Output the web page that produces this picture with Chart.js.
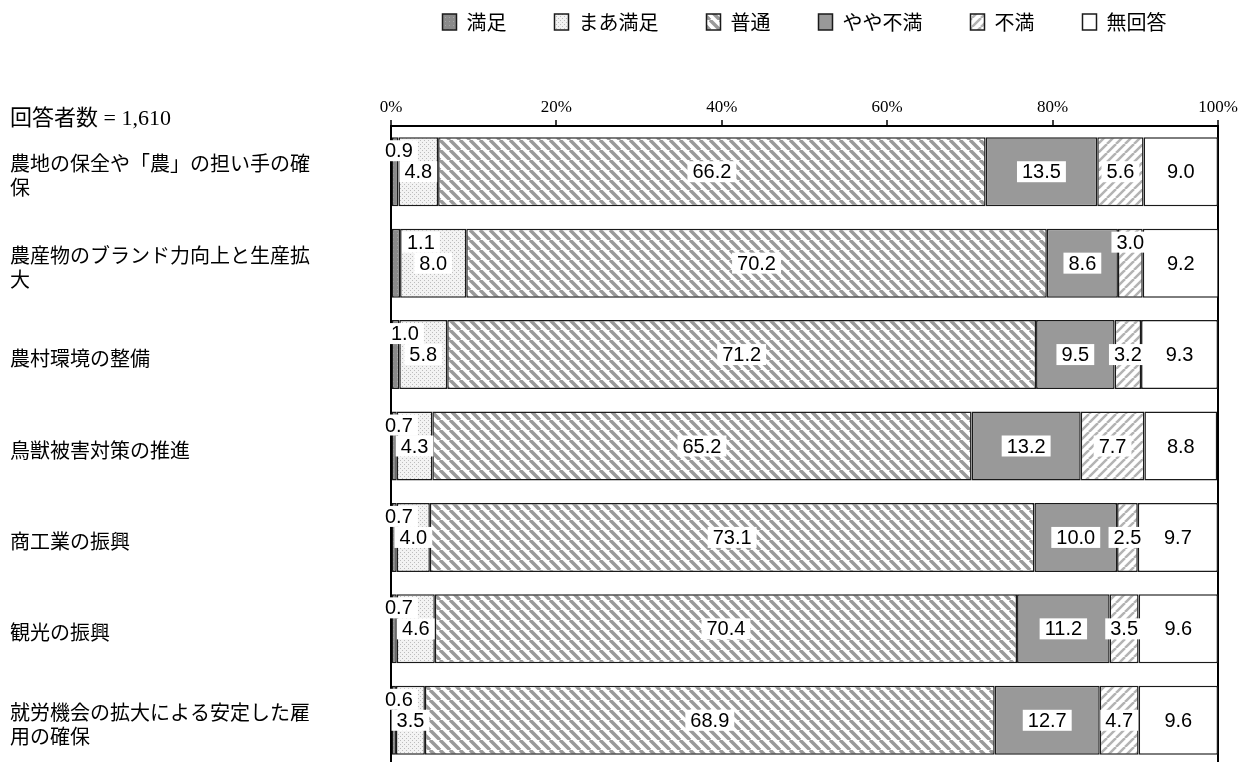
<!DOCTYPE html>
<html lang="ja">
<head>
<meta charset="utf-8">
<title>満足度</title>
<script src="https://cdn.jsdelivr.net/npm/chart.js@4/dist/chart.umd.min.js"></script>
<style>
  html, body { margin: 0; padding: 0; background: #fff; overflow: hidden; }
  canvas { display: block; }
</style>
</head>
<body>
<canvas id="satisfactionChart" width="1251" height="768"></canvas>
<script>
// Categories and answer shares (%)
const categories = [
    '農地の保全や「農」の担い手の確保',
    '農産物のブランド力向上と生産拡大',
    '農村環境の整備',
    '鳥獣被害対策の推進',
    '商工業の振興',
    '観光の振興',
    '就労機会の拡大による安定した雇用の確保'
];
const seriesNames = ['満足', 'まあ満足', '普通', 'やや不満', '不満', '無回答'];
const manzoku    = [0.9, 1.1, 1.0, 0.7, 0.7, 0.7, 0.6];
const maaManzoku = [4.8, 8.0, 5.8, 4.3, 4.0, 4.6, 3.5];
const futsuu     = [66.2, 70.2, 71.2, 65.2, 73.1, 70.4, 68.9];
const yayaFuman  = [13.5, 8.6, 9.5, 13.2, 10.0, 11.2, 12.7];
const fuman      = [5.6, 3.0, 3.2, 7.7, 2.5, 3.5, 4.7];
const mukaitou   = [9.0, 9.2, 9.3, 8.8, 9.7, 9.6, 9.6];
const xTicks = [0, 20, 40, 60, 80, 100];
const respondents = '回答者数 = 1,610';

// labels that sit above the bar centre in the original (and a couple nudged sideways)
const raisedLabels = { '満足': [0, 1, 2, 3, 4, 5, 6], '不満': [1] };
const nudgedLabels = { '満足': { 1: 22, 2: 6 } };

// wrap long category names at 15 characters
function wrapLabel(s) {
    const lines = [];
    for (let i = 0; i < s.length; i += 15) lines.push(s.slice(i, i + 15));
    return lines;
}

// small tiles used as fill patterns
function makePattern(size, draw) {
    const c = document.createElement('canvas');
    c.width = size;
    c.height = size;
    const g = c.getContext('2d');
    draw(g, size);
    return g.createPattern(c, 'repeat');
}

const patManzoku = makePattern(4, function(g, s) {
    g.fillStyle = '#8a8a8a'; g.fillRect(0, 0, s, s);
    g.fillStyle = '#a6a6a6'; g.fillRect(1, 1, 1, 1);
});
const patMaa = makePattern(4, function(g, s) {
    g.fillStyle = '#f3f3f3'; g.fillRect(0, 0, s, s);
    g.fillStyle = '#bdbdbd'; g.fillRect(0, 0, 1, 1); g.fillRect(2, 2, 1, 1);
});
const patFutsuu = makePattern(10, function(g, s) {
    g.fillStyle = '#ffffff'; g.fillRect(0, 0, s, s);
    g.strokeStyle = '#9a9a9a'; g.lineWidth = 3.5;
    for (let x0 = -s; x0 <= s; x0 += s) {
        g.beginPath(); g.moveTo(x0, 0); g.lineTo(x0 + s, s); g.stroke();
    }
});
const patFuman = makePattern(9, function(g, s) {
    g.fillStyle = '#ffffff'; g.fillRect(0, 0, s, s);
    g.strokeStyle = '#b3b3b3'; g.lineWidth = 2.5;
    for (let x0 = -s; x0 <= s; x0 += s) {
        g.beginPath(); g.moveTo(x0, s); g.lineTo(x0 + s, 0); g.stroke();
    }
});

const seriesValues = [manzoku, maaManzoku, futsuu, yayaFuman, fuman, mukaitou];
const fills = [patManzoku, patMaa, patFutsuu, '#999999', patFuman, '#ffffff'];

const datasets = seriesNames.map(function(name, i) {
    return {
        label: name,
        data: seriesValues[i],
        backgroundColor: fills[i],
        borderColor: '#1a1a1a',
        borderWidth: 1.5,
        borderSkipped: false,
        barPercentage: 0.755,
        categoryPercentage: 1.0
    };
});

// value labels on white boxes
const valueLabels = {
    id: 'valueLabels',
    afterDatasetsDraw: function(chart) {
        const ctx = chart.ctx;
        ctx.save();
        ctx.font = '20px "Liberation Sans", Arial, sans-serif';
        ctx.textAlign = 'center';
        ctx.textBaseline = 'middle';
        chart.data.datasets.forEach(function(ds, di) {
            const meta = chart.getDatasetMeta(di);
            meta.data.forEach(function(bar, i) {
                const txt = ds.data[i].toFixed(1);
                let x = (bar.x + bar.base) / 2;
                let y = bar.y;
                if ((raisedLabels[ds.label] || []).includes(i)) y -= 21;
                const w = ctx.measureText(txt).width + 10;
                const h = 21;
                if (x - w / 2 < 380) x = 380 + w / 2;
                const nudge = nudgedLabels[ds.label];
                if (nudge && nudge[i]) x += nudge[i];
                ctx.fillStyle = '#ffffff';
                ctx.fillRect(x - w / 2, y - h / 2, w, h);
                ctx.fillStyle = '#000000';
                ctx.fillText(txt, x, y + 1);
            });
        });
        ctx.restore();
    }
};

// respondent count at the top left
const respondentNote = {
    id: 'respondentNote',
    afterDraw: function(chart) {
        const ctx = chart.ctx;
        ctx.save();
        ctx.font = '22px "Liberation Serif", "Noto Sans CJK JP", serif';
        ctx.fillStyle = '#000';
        ctx.textAlign = 'left';
        ctx.textBaseline = 'middle';
        ctx.fillText(respondents, 10, 119);
        ctx.restore();
    }
};

const ctx = document.getElementById('satisfactionChart').getContext('2d');
const chart = new Chart(ctx, {
    type: 'bar',
    data: {
        labels: categories.map(wrapLabel),
        datasets: datasets
    },
    options: {
        indexAxis: 'y',
        responsive: false,
        animation: false,
        layout: {
            padding: { top: -36, left: 10, right: 33, bottom: 2 }
        },
        scales: {
            x: {
                position: 'top',
                stacked: true,
                min: 0,
                max: 100,
                afterBuildTicks: function(scale) {
                    scale.ticks = xTicks.map(function(v) { return { value: v }; });
                },
                afterFit: function(scale) { scale.height = 84; },
                ticks: {
                    padding: 2,
                    color: '#000',
                    font: { family: '"Liberation Serif", serif', size: 17 },
                    callback: function(v) { return v + '%'; }
                },
                grid: {
                    drawOnChartArea: true,
                    tickLength: 6,
                    tickColor: '#000',
                    tickWidth: 1.5,
                    lineWidth: 2,
                    color: function(c) {
                        return c.tick && c.tick.value === 100 ? '#000' : 'rgba(0,0,0,0)';
                    }
                },
                border: { display: true, color: '#000', width: 2 }
            },
            y: {
                stacked: true,
                afterFit: function(scale) {
                    scale.width = 381;
                    // two-line labels should not shrink the plot
                    scale.paddingTop = 0;
                    scale.paddingBottom = 0;
                },
                ticks: {
                    crossAlign: 'far',
                    labelOffset: 4,
                    color: '#000',
                    font: { family: '"Noto Sans CJK JP", sans-serif', size: 20, lineHeight: 1.2 }
                },
                grid: { display: true, drawOnChartArea: false, drawTicks: false },
                border: { display: true, color: '#000', width: 2 }
            }
        },
        plugins: {
            legend: {
                position: 'top',
                fullSize: false,
                labels: {
                    boxWidth: 14,
                    boxHeight: 16,
                    padding: 48,
                    color: '#000',
                    font: { family: '"Noto Sans CJK JP", sans-serif', size: 20 }
                }
            },
            tooltip: { enabled: false }
        }
    },
    plugins: [valueLabels, respondentNote]
});
</script>
</body>
</html>
